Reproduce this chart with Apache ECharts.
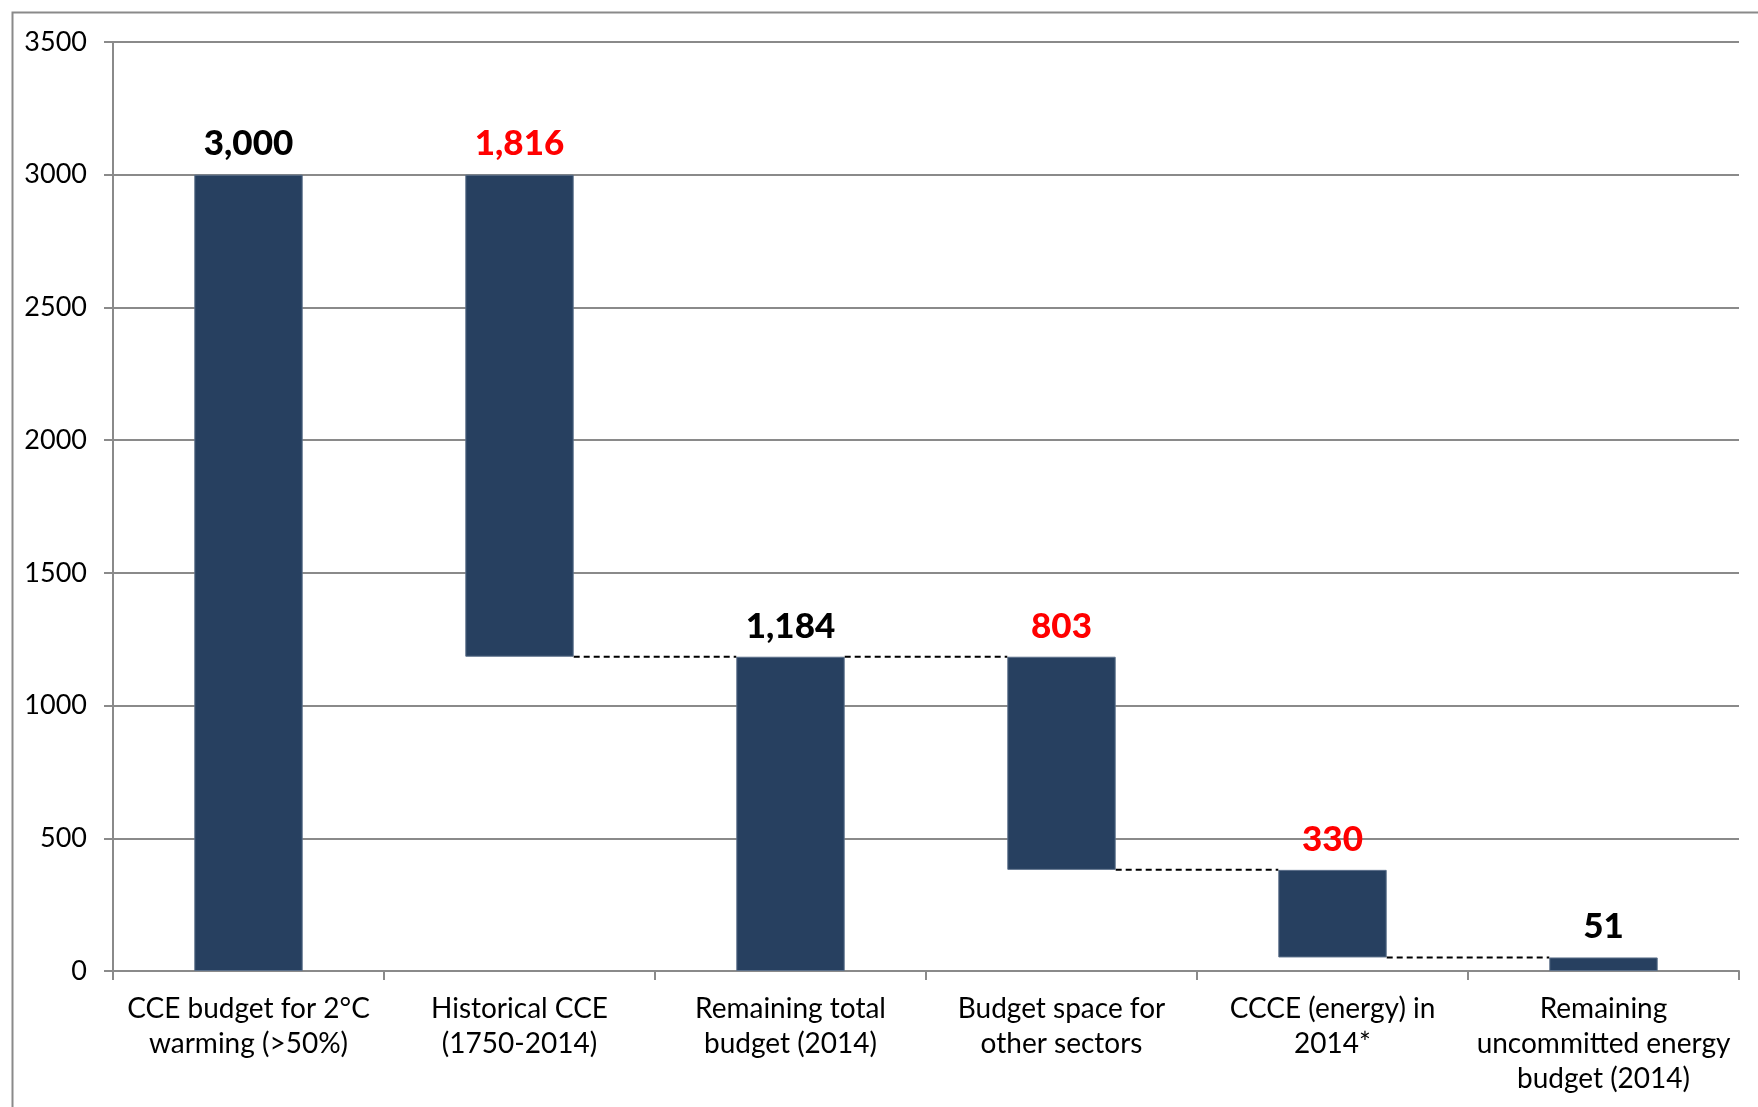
<!DOCTYPE html>
<html>
<head>
<meta charset="utf-8">
<script src="https://cdn.jsdelivr.net/npm/echarts@6/dist/echarts.min.js"></script>
<style>html,body{margin:0;padding:0;background:#fff}#c{width:1758px;height:1107px}</style>
</head>
<body>
<div id="c"></div>
<script>
// ---- data ----
const categories = [
  'CCE budget for 2°C\nwarming (>50%)',
  'Historical CCE\n(1750-2014)',
  'Remaining total\nbudget (2014)',
  'Budget space for\nother sectors',
  'CCCE (energy) in\n2014*',
  'Remaining\nuncommitted energy\nbudget (2014)'
];
const values = [3000, 1816, 1184, 803, 330, 51];
const kinds = ['total', 'decrease', 'total', 'decrease', 'decrease', 'total'];
const connectorFrom = [1, 2, 3, 4]; // dashed links from bar i to bar i+1
const yTicks = [0, 3500, 500];

// ---- derived waterfall bases ----
const bases = [];
let level = 0;
values.forEach((v, i) => {
  if (kinds[i] === 'total') { bases.push(0); level = v; }
  else { level = level - v; bases.push(level); }
});
const tops = values.map((v, i) => bases[i] + v);
const connectors = connectorFrom.map(i => [i, kinds[i] === 'total' ? tops[i] : bases[i]]);

const FONT = 'Lato, "Noto Sans", sans-serif';
const chart = echarts.init(document.getElementById('c'));
const BAR_FRAC = 0.4;
chart.setOption({
  animation: false,
  backgroundColor: '#fff',
  graphic: [{
    type: 'rect', left: 10, top: 10,
    shape: { width: 1800, height: 1200 },
    style: { fill: 'none', stroke: '#8a8a8a', lineWidth: 2 }
  }],
  grid: { left: 113, right: 19, top: 42, bottom: 136 },
  xAxis: {
    type: 'category',
    data: categories,
    axisLine: { lineStyle: { color: '#8a8a8a', width: 2 } },
    axisTick: { show: true, length: 9, lineStyle: { color: '#8a8a8a', width: 2 } },
    axisLabel: { interval: 0, color: '#000', fontFamily: FONT, fontSize: 28, lineHeight: 35, margin: 20 }
  },
  yAxis: {
    type: 'value', min: yTicks[0], max: yTicks[1], interval: yTicks[2],
    axisLine: { show: true, lineStyle: { color: '#8a8a8a', width: 2 } },
    axisTick: { show: true, length: 9, lineStyle: { color: '#8a8a8a', width: 2 } },
    splitLine: { lineStyle: { color: '#8a8a8a', width: 2 } },
    axisLabel: { color: '#000', fontFamily: FONT, fontSize: 27, margin: 26, formatter: v => String(v) }
  },
  series: [
    {
      type: 'bar', stack: 'w', data: bases, barWidth: (BAR_FRAC * 100) + '%',
      itemStyle: { color: 'transparent' }, silent: true
    },
    {
      type: 'bar', stack: 'w', barWidth: (BAR_FRAC * 100) + '%',
      data: values.map((v, i) => ({
        value: v,
        label: { color: kinds[i] === 'decrease' ? '#ff0000' : '#000' }
      })),
      itemStyle: { color: '#274060', borderColor: '#5c708a', borderWidth: 1 },
      label: {
        show: true, position: 'top', distance: 13,
        fontFamily: FONT, fontWeight: 900, fontSize: 35,
        formatter: p => p.value.toLocaleString('en-US')
      }
    },
    {
      type: 'custom',
      data: connectors,
      renderItem: (params, api) => {
        const i = api.value(0), lvl = api.value(1);
        const a = api.coord([i, lvl]);
        const b = api.coord([i + 1, lvl]);
        const bw = api.size([1, 0])[0] * BAR_FRAC;
        return {
          type: 'line',
          shape: { x1: a[0] + bw / 2, y1: a[1], x2: b[0] - bw / 2, y2: b[1] },
          style: { stroke: '#000', lineWidth: 2, lineDash: [6, 4] }
        };
      },
      z: 5
    }
  ]
});
</script>
</body>
</html>
